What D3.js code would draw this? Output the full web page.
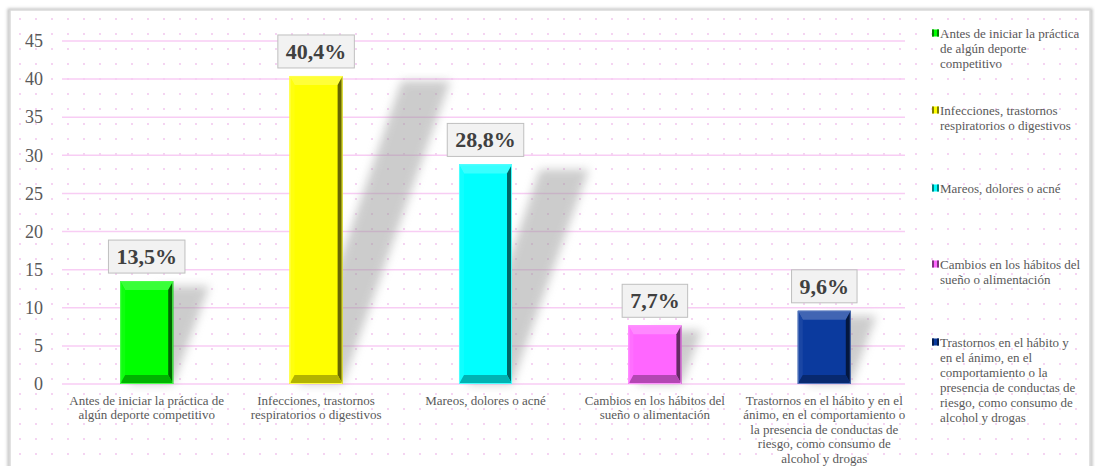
<!DOCTYPE html>
<html>
<head>
<meta charset="utf-8">
<script src="https://cdn.jsdelivr.net/npm/d3@7"></script>
<style>
  html, body { margin: 0; padding: 0; background: #fff; }
  svg text { font-family: "Liberation Serif", "Times New Roman", "DejaVu Serif", serif !important; }
</style>
</head>
<body>
<svg id="chart" width="1095" height="466"></svg>
<script>
// ---- Data ----
const categories = [
  "Antes de iniciar la práctica de algún deporte competitivo",
  "Infecciones, trastornos respiratorios o digestivos",
  "Mareos, dolores o acné",
  "Cambios en los hábitos del sueño o alimentación",
  "Trastornos en el hábito y en el ánimo, en el comportamiento o la presencia de conductas de riesgo, como consumo de alcohol y drogas"
];
const values = [13.5, 40.4, 28.8, 7.7, 9.6];
const valueLabels = ["13,5%", "40,4%", "28,8%", "7,7%", "9,6%"];
const axisLabelLines = [
  ["Antes de iniciar la práctica de", "algún deporte competitivo"],
  ["Infecciones, trastornos", "respiratorios o digestivos"],
  ["Mareos, dolores o acné"],
  ["Cambios en los hábitos del", "sueño o alimentación"],
  ["Trastornos en el hábito y en el", "ánimo, en el comportamiento o", "la presencia de conductas de", "riesgo, como consumo de", "alcohol y drogas"]
];
const legendLines = [
  ["Antes de iniciar la práctica", "de algún deporte", "competitivo"],
  ["Infecciones, trastornos", "respiratorios o digestivos"],
  ["Mareos, dolores o acné"],
  ["Cambios en los hábitos del", "sueño o alimentación"],
  ["Trastornos en el hábito y", "en el ánimo, en el", "comportamiento o la", "presencia de conductas de", "riesgo, como consumo de", "alcohol y drogas"]
];
const colors = ["#00ff00", "#ffff00", "#00ffff", "#ff66ff", "#0b3a9e"];
const yTicks = [0, 5, 10, 15, 20, 25, 30, 35, 40, 45];

// ---- Layout ----
const svg = d3.select("#chart");
const plot = { left: 62, right: 909, top: 40.9, bottom: 384 };

const defs = svg.append("defs");
const pat = defs.append("pattern").attr("id", "dots")
  .attr("patternUnits", "userSpaceOnUse").attr("width", 16).attr("height", 15);
pat.append("circle").attr("cx", 4).attr("cy", 4).attr("r", 0.9).attr("fill", "#f1bfec");
const blur = defs.append("filter").attr("id", "blur")
  .attr("x", "-50%").attr("y", "-20%").attr("width", "200%").attr("height", "140%");
blur.append("feGaussianBlur").attr("stdDeviation", 5);
const fshadow = defs.append("filter").attr("id", "frameShadow");
fshadow.append("feGaussianBlur").attr("stdDeviation", 1.5);

// Frame
svg.append("rect").attr("x", 9).attr("y", 10).attr("width", 1082).attr("height", 470)
  .attr("fill", "none").attr("stroke", "#bdbdbd").attr("stroke-width", 3).attr("filter", "url(#frameShadow)");
svg.append("rect").attr("x", 10).attr("y", 10).attr("width", 1080).attr("height", 470)
  .attr("fill", "#fff").attr("stroke", "#d9d9d9").attr("stroke-width", 1.5);
svg.append("rect").attr("x", 11).attr("y", 11).attr("width", 1078).attr("height", 468)
  .attr("fill", "url(#dots)");

const x = d3.scaleBand().domain(categories).range([plot.left, plot.right])
  .paddingInner(0.687).paddingOuter(0.3435);
const y = d3.scaleLinear().domain([0, 45]).range([plot.bottom, plot.top]);

// Gridlines
svg.append("g").selectAll("line").data(yTicks).join("line")
  .attr("x1", plot.left).attr("x2", 905)
  .attr("y1", d => y(d)).attr("y2", d => y(d))
  .attr("stroke", "#f8cdf4").attr("stroke-width", 1.5);

// Y axis
const yAxis = svg.append("g").attr("transform", `translate(${plot.left},0)`)
  .call(d3.axisLeft(y).tickValues(yTicks).tickSize(0).tickPadding(19));
yAxis.attr("font-family", null);
yAxis.select(".domain").remove();
yAxis.selectAll("text").attr("font-size", 18).attr("fill", "#595959");

// Shadows
const k = 0.35;
svg.append("g").selectAll("path").data(values).join("path")
  .attr("d", (v, i) => {
    const x0 = x(categories[i]), x1 = x0 + x.bandwidth();
    const yb = y(0), yt = y(v), h = yb - yt;
    return `M${x0 + 8},${yb} L${x1},${yb} L${x1 + k * h},${yt + 5} L${x0 + k * h + 4},${yt + 5} Z`;
  })
  .attr("fill", "#9a9a9a").attr("opacity", 0.5).attr("filter", "url(#blur)");

// Bars with bevel
const mix = (c, t, a) => d3.interpolateRgb(c, t)(a);
const bars = svg.append("g").selectAll("g").data(values).join("g");
bars.each(function (v, i) {
  const g = d3.select(this);
  const c = colors[i];
  const x0 = x(categories[i]), x1 = x0 + x.bandwidth();
  const yt = y(v), yb = y(0);
  const bs = 5, bt = 9;
  g.append("rect").attr("x", x0).attr("y", yt).attr("width", x1 - x0).attr("height", yb - yt).attr("fill", c);
  const poly = (pts, fill) => g.append("polygon").attr("points", pts.map(p => p.join(",")).join(" ")).attr("fill", fill);
  poly([[x0, yt], [x1, yt], [x1 - bs, yt + bt], [x0 + bs, yt + bt]], mix(c, "#fff", 0.22));
  poly([[x0, yt], [x0 + bs, yt + bt], [x0 + bs, yb - bt], [x0, yb]], mix(c, "#fff", 0.06));
  poly([[x1, yt], [x1, yb], [x1 - bs, yb - bt], [x1 - bs, yt + bt]], mix(c, "#000", 0.6));
  poly([[x0, yb], [x1, yb], [x1 - bs, yb - bt], [x0 + bs, yb - bt]], mix(c, "#000", 0.3));
  g.append("rect").attr("x", x0 + 0.5).attr("y", yt + 0.5).attr("width", x1 - x0 - 1).attr("height", yb - yt - 1)
    .attr("fill", "none").attr("stroke", mix(c, "#fff", 0.3)).attr("stroke-width", 1);
});

// Value labels
const labels = svg.append("g").selectAll("g").data(values).join("g");
labels.each(function (v, i) {
  const g = d3.select(this);
  const cx = x(categories[i]) + x.bandwidth() / 2;
  const boxBottom = y(v) - 8;
  const rect = g.append("rect");
  const t = g.append("text").attr("x", cx).attr("y", boxBottom - 9)
    .attr("text-anchor", "middle").attr("font-size", 22).attr("font-weight", "bold")
    .attr("fill", "#404040").text(valueLabels[i]);
  const bb = t.node().getBBox();
  rect.attr("x", bb.x - 8).attr("y", boxBottom - 33).attr("width", bb.width + 16).attr("height", 33)
    .attr("fill", "#f2f2f2").attr("stroke", "#bfbfbf").attr("stroke-width", 1);
});

// Category labels
const cat = svg.append("g").selectAll("text").data(axisLabelLines).join("text")
  .attr("text-anchor", "middle").attr("font-size", 13).attr("fill", "#595959")
  .attr("x", (d, i) => x(categories[i]) + x.bandwidth() / 2);
cat.selectAll("tspan").data(d => d).join("tspan")
  .attr("x", function () { return d3.select(this.parentNode).attr("x"); })
  .attr("y", (d, j) => 404.5 + j * 14.5).text(d => d);

// Legend
const legendTops = [33, 110, 188, 264, 342];
const leg = svg.append("g").selectAll("g").data(legendLines).join("g")
  .attr("transform", (d, i) => `translate(932,${legendTops[i]})`);
leg.each(function (lines, i) {
  const g = d3.select(this);
  const c = colors[i];
  g.append("rect").attr("x", 0).attr("y", -3.5).attr("width", 7).attr("height", 7).attr("fill", c);
  g.append("rect").attr("x", 0).attr("y", -3.5).attr("width", 2).attr("height", 7).attr("fill", mix(c, "#000", 0.5));
  g.append("rect").attr("x", 5).attr("y", -3.5).attr("width", 2).attr("height", 7).attr("fill", mix(c, "#000", 0.5));
  const t = g.append("text").attr("font-size", 13).attr("fill", "#595959");
  t.selectAll("tspan").data(lines).join("tspan")
    .attr("x", 8)
    .attr("y", (d, j) => 4.5 + j * 15).text(d => d);
});
</script>
</body>
</html>
